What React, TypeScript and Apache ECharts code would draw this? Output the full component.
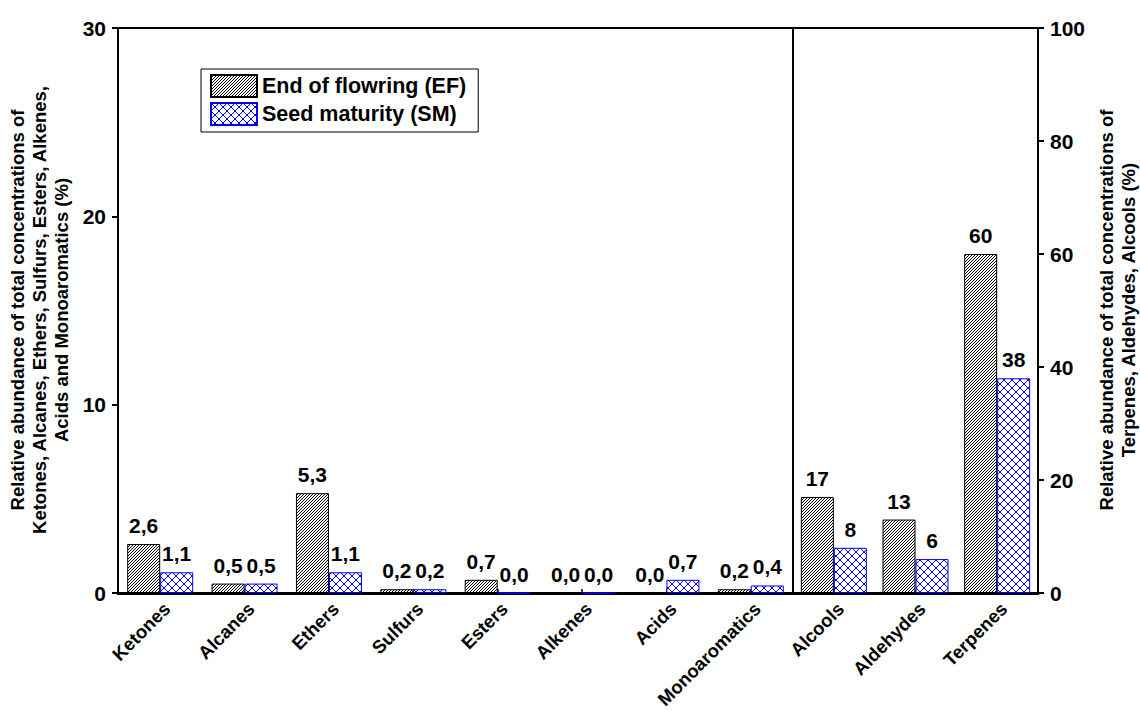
import React, { useEffect, useRef } from "react";
import * as echarts from "echarts";

const leftCategories = ["Ketones", "Alcanes", "Ethers", "Sulfurs", "Esters", "Alkenes", "Acids", "Monoaromatics"];
const rightCategories = ["Alcools", "Aldehydes", "Terpenes"];
const efLeft = [2.6, 0.5, 5.3, 0.2, 0.7, 0.0, 0.0, 0.2];
const smLeft = [1.1, 0.5, 1.1, 0.2, 0.0, 0.0, 0.7, 0.4];
const efRight = [17, 13, 60];
const smRight = [8, 6, 38];
const seriesNames = ["End of flowring (EF)", "Seed maturity (SM)"];
const leftTitle = "Relative abundance of total concentrations of\nKetones, Alcanes, Ethers, Sulfurs, Esters, Alkenes,\nAcids and Monoaromatics (%)";
const rightTitle = "Relative abundance of total concentrations of\nTerpenes, Aldehydes, Alcools (%)";

const FONT = 'Arial, "Liberation Sans", sans-serif';

function makePattern(size: number, color: string, pts: number[][]) {
  const c = document.createElement("canvas");
  c.width = size;
  c.height = size;
  const ctx = c.getContext("2d")!;
  ctx.fillStyle = "#ffffff";
  ctx.fillRect(0, 0, size, size);
  ctx.fillStyle = color;
  pts.forEach(([x, y]) => ctx.fillRect(x, y, 1, 1));
  return { image: c.toDataURL(), repeat: "repeat", imageWidth: size, imageHeight: size } as any;
}

export default function App() {
  const ref = useRef<HTMLDivElement>(null);
  useEffect(() => {
    document.body.style.margin = "0";
    const chart = echarts.init(ref.current!, null, { renderer: "svg" });
    const efPts: number[][] = [];
    for (let i = 0; i < 3; i++) efPts.push([i, 2 - i]);
    const smPts: number[][] = [];
    for (let i = 0; i < 8; i++) {
      smPts.push([i, i]);
      smPts.push([i, 7 - i]);
    }
    const efFill = makePattern(3, "#000000", efPts);
    const smFill = makePattern(8, "#0000ff", smPts);

    const fmtLeft = (p: any) => Number(p.value).toFixed(1).replace(".", ",");
    const fmtRight = (p: any) => String(Math.round(Number(p.value)));
    const labelStyle = {
      show: true,
      position: "top",
      distance: 8,
      color: "#000",
      fontSize: 21,
      fontWeight: "bold",
      fontFamily: FONT,
    };
    const efStyle = { color: efFill, borderColor: "#000", borderWidth: 1 };
    const smStyle = { color: smFill, borderColor: "#0000ff", borderWidth: 1 };
    const catAxis = (data: string[], gridIndex: number) => ({
      type: "category",
      gridIndex,
      data,
      axisLine: { show: true, lineStyle: { color: "#000", width: 3 } },
      axisTick: { show: true, inside: true, alignWithLabel: true, length: 4, lineStyle: { color: "#000", width: 1.5 } },
      axisLabel: {
        rotate: 45,
        margin: 6,
        verticalAlign: "top",
        color: "#000",
        fontSize: 18.5,
        fontWeight: "bold",
        fontFamily: FONT,
        interval: 0,
      },
    });

    const gridBase = {
      top: 28,
      bottom: 118,
      show: true,
      borderColor: "#000",
      borderWidth: 2,
      backgroundColor: "transparent",
      containLabel: false,
      outerBoundsMode: "none",
    };

    chart.setOption({
      animation: false,
      backgroundColor: "#fff",
      grid: [
        { ...gridBase, left: 118, right: 347 },
        { ...gridBase, left: 793, right: 102 },
      ],
      legend: {
        data: seriesNames,
        orient: "vertical",
        left: 201,
        top: 69,
        icon: "rect",
        itemWidth: 46,
        itemHeight: 22,
        itemGap: 4,
        padding: [5, 12, 6, 9],
        borderColor: "#000",
        borderWidth: 1,
        backgroundColor: "#fff",
        textStyle: { color: "#000", fontSize: 21.5, fontWeight: "bold", fontFamily: FONT },
      },
      xAxis: [catAxis(leftCategories, 0), catAxis(rightCategories, 1)],
      yAxis: [
        {
          type: "value",
          gridIndex: 0,
          min: 0,
          max: 30,
          interval: 10,
          position: "left",
          splitLine: { show: false },
          axisLine: { show: true, lineStyle: { color: "#000", width: 2 } },
          axisTick: { show: true, length: 6, lineStyle: { color: "#000", width: 2 } },
          axisLabel: { margin: 12, color: "#000", fontSize: 21, fontWeight: "bold", fontFamily: FONT },
        },
        {
          type: "value",
          gridIndex: 1,
          min: 0,
          max: 100,
          interval: 20,
          position: "right",
          splitLine: { show: false },
          axisLine: { show: true, lineStyle: { color: "#000", width: 2 } },
          axisTick: { show: true, length: 6, lineStyle: { color: "#000", width: 2 } },
          axisLabel: { margin: 12, color: "#000", fontSize: 21, fontWeight: "bold", fontFamily: FONT },
        },
      ],
      series: [
        { name: seriesNames[0], type: "bar", xAxisIndex: 0, yAxisIndex: 0, data: efLeft, barWidth: 33, barGap: "0%", itemStyle: efStyle, label: { ...labelStyle, formatter: fmtLeft } },
        { name: seriesNames[1], type: "bar", xAxisIndex: 0, yAxisIndex: 0, data: smLeft, barWidth: 33, barGap: "0%", itemStyle: smStyle, label: { ...labelStyle, formatter: fmtLeft } },
        { name: seriesNames[0], type: "bar", xAxisIndex: 1, yAxisIndex: 1, data: efRight, barWidth: 33, barGap: "0%", itemStyle: efStyle, label: { ...labelStyle, formatter: fmtRight } },
        { name: seriesNames[1], type: "bar", xAxisIndex: 1, yAxisIndex: 1, data: smRight, barWidth: 33, barGap: "0%", itemStyle: smStyle, label: { ...labelStyle, formatter: fmtRight } },
      ],
      graphic: [
        {
          type: "text",
          x: 39,
          y: 310,
          rotation: Math.PI / 2,
          style: { text: leftTitle, align: "center", verticalAlign: "middle", fill: "#000", fontSize: 18.5, fontWeight: "bold", fontFamily: FONT, lineHeight: 22 },
        },
        {
          type: "text",
          x: 1117,
          y: 310,
          rotation: Math.PI / 2,
          style: { text: rightTitle, align: "center", verticalAlign: "middle", fill: "#000", fontSize: 18.5, fontWeight: "bold", fontFamily: FONT, lineHeight: 22 },
        },
      ],
    } as any);
    return () => chart.dispose();
  }, []);
  return <div ref={ref} style={{ position: "absolute", left: 0, top: 0, width: 1140, height: 711 }} />;
}
